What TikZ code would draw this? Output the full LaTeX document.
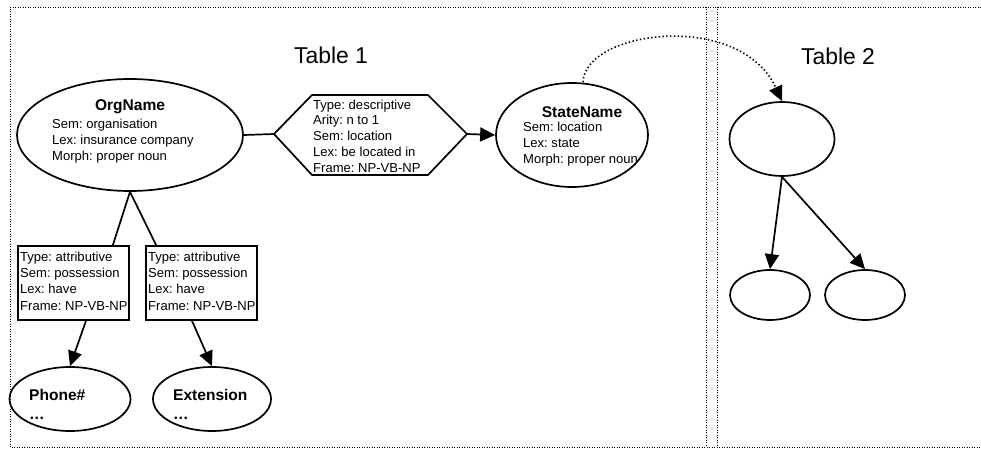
\documentclass[tikz,border=0pt]{standalone}
\usepackage{fontspec}
\setmainfont{Liberation Sans}
\usetikzlibrary{shapes.geometric,arrows.meta,calc}
\frenchspacing
\begin{document}
\begin{tikzpicture}[x=1bp,y=-1bp,
  framestyle/.style={line width=0.9bp, dash pattern=on 0.9bp off 1.6bp},
  ell/.style={ellipse, draw, line width=1.7bp, inner sep=0pt},
  boxstyle/.style={draw, line width=1.7bp, inner sep=0pt},
  conn/.style={line width=1.7bp},
  arr/.style={line width=1.7bp, -{Triangle[length=15bp,width=14bp]}},
  smalltext/.style={font=\fontsize{13.1}{15.8}\selectfont, inner sep=0pt, align=left},
  boxtext/.style={font=\fontsize{13.1}{16.3}\selectfont, inner sep=0pt, align=left},
  nametext/.style={font=\fontsize{15.6}{18}\selectfont\bfseries, inner sep=0pt},
  titletext/.style={font=\fontsize{23}{27}\selectfont, inner sep=0pt}]
\useasboundingbox (0,0) rectangle (981,449);

% frames
\draw[framestyle] (981,7) -- (10,7) -- (10,447) -- (981,447);
\draw[framestyle] (706,7) -- (706,447);
\draw[framestyle] (717,7) -- (717,447);

% titles
\node[titletext] (t1) at (331,55) {Table 1};
\node[titletext] (t2) at (838,56) {Table 2};

% OrgName
\node[ell, minimum width=226bp, minimum height=112bp] (org) at (130,135) {};
\node[nametext] (orgT) at (130,107) {OrgName};
\node[smalltext, anchor=west] (orgL) at (52,141) {Sem: organisation\\Lex: insurance company\\Morph: proper noun};

% hexagon relation
\node[smalltext, anchor=west] (hexT) at (313,136) {Type: descriptive\\Arity: n to 1\\Sem: location\\Lex: be located in\\Frame: NP-VB-NP};
\coordinate (hexL) at (274,134);
\coordinate (hexR) at (467,134);
\draw[conn, line join=miter] (hexL) -- (312,95) -- (428,95) -- (hexR) -- (428,175) -- (312,175) -- cycle;

% StateName
\node[ell, minimum width=152bp, minimum height=104bp] (state) at (572,135) {};
\node[nametext] (stateT) at (582,112) {StateName};
\node[smalltext, anchor=west] (stateL) at (523,144) {Sem: location\\Lex: state\\Morph: proper noun};

\draw[conn] (org.east) -- (hexL);
\draw[arr] (hexR) -- (state.west);

% attribute boxes
\node[boxstyle, minimum width=111bp, minimum height=74bp] (boxL) at (73.5,283) {};
\node[boxtext, anchor=west] (boxLT) at (20,281) {Type: attributive\\Sem: possession\\Lex: have\\Frame: NP-VB-NP};
\node[boxstyle, minimum width=111bp, minimum height=74bp] (boxR) at (201.5,283) {};
\node[boxtext, anchor=west] (boxRT) at (148,281) {Type: attributive\\Sem: possession\\Lex: have\\Frame: NP-VB-NP};

\draw[conn] (org.south) -- ([xshift=-17bp]boxL.north east);
\draw[conn] (org.south) -- ([xshift=11bp]boxR.north west);

% Phone# and Extension
\node[ell, minimum width=121bp, minimum height=64bp] (phone) at (70,399) {};
\node[nametext, anchor=west] (phoneT) at (29,395) {Phone\#};
\node[nametext, anchor=west] (phoneD) at (29,418) {…};
\node[ell, minimum width=118bp, minimum height=64bp] (ext) at (212,399) {};
\node[nametext, anchor=west] (extT) at (173,395) {Extension};
\node[nametext, anchor=west] (extD) at (173,418) {…};

\draw[arr] ([xshift=12.5bp]boxL.south) -- (phone.north);
\draw[arr] ([xshift=-9.5bp]boxR.south) -- (ext.north);

% Table 2
\node[ell, minimum width=105bp, minimum height=74bp] (t2a) at (782,139) {};
\node[ell, minimum width=80bp, minimum height=50bp] (t2b) at (770,295) {};
\node[ell, minimum width=80bp, minimum height=50bp] (t2c) at (865,295) {};
\draw[arr] (t2a.south) -- (t2b.north);
\draw[arr] (t2a.south) -- (t2c.north);

% dotted link
\draw[line width=1.6bp, dash pattern=on 1.4bp off 2.4bp, -{Triangle[length=15bp,width=14bp]}]
  ([xshift=11bp]state.north) .. controls (585,30) and (740,10) .. (t2a.north);
\end{tikzpicture}
\end{document}
